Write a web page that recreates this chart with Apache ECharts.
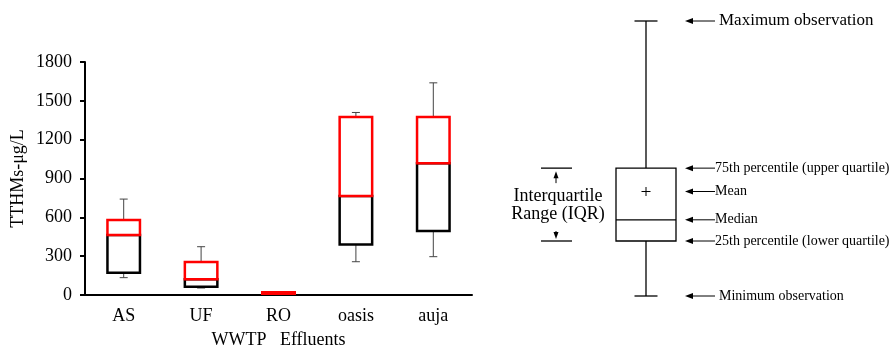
<!DOCTYPE html>
<html>
<head>
<meta charset="utf-8">
<script src="https://cdn.jsdelivr.net/npm/echarts@6/dist/echarts.min.js"></script>
<style>
  html, body { margin: 0; padding: 0; background: #fff; }
  #chart { width: 890px; height: 348px; }
</style>
</head>
<body>
<div id="chart"></div>
<script>
// box plot data (ug/L)
const categories = ['AS', 'UF', 'RO', 'oasis', 'auja'];
const minValues = [134, 54, 3, 257, 296];
const q1Values = [172, 64, 5, 391, 494];
const medianValues = [463, 121, 9, 764, 1017];
const q3Values = [579, 255, 22, 1376, 1376];
const maxValues = [741, 373, 26, 1410, 1639];
const yMin = 0, yMax = 1800, yStep = 300;

// explanatory box on the right (arbitrary 0..100 scale)
const legendBox = [0, 20, 27.7, 46.5, 100]; // min, q1, median, q3, max
const legendMean = 38;
const noteTexts = ['Maximum observation', '75th percentile (upper quartile)', 'Mean', 'Median', '25th percentile (lower quartile)', 'Minimum observation'];
const noteValues = [100, 46.5, 38, 27.7, 20, 0];
const iqrText = ['Interquartile', 'Range (IQR)'];

const FONT = '"Liberation Serif", "Times New Roman", serif';

const boxData = categories.map((c, i) => [i, minValues[i], q1Values[i], medianValues[i], q3Values[i], maxValues[i]]);

function renderBox(params, api) {
  const x = api.value(0);
  const pMin = api.coord([x, api.value(1)]);
  const pQ1 = api.coord([x, api.value(2)]);
  const pMed = api.coord([x, api.value(3)]);
  const pQ3 = api.coord([x, api.value(4)]);
  const pMax = api.coord([x, api.value(5)]);
  const cx = pMin[0];
  const halfW = api.size([1, 0])[0] * 0.21;
  const cap = 4;
  const whisker = { stroke: '#444', lineWidth: 1 };
  return {
    type: 'group',
    children: [
      { type: 'line', shape: { x1: cx, y1: pQ3[1], x2: cx, y2: pMax[1] }, style: whisker },
      { type: 'line', shape: { x1: cx - cap, y1: pMax[1], x2: cx + cap, y2: pMax[1] }, style: whisker },
      { type: 'line', shape: { x1: cx, y1: pQ1[1], x2: cx, y2: pMin[1] }, style: whisker },
      { type: 'line', shape: { x1: cx - cap, y1: pMin[1], x2: cx + cap, y2: pMin[1] }, style: whisker },
      { type: 'rect', shape: { x: cx - halfW, y: pMed[1], width: halfW * 2, height: pQ1[1] - pMed[1] },
        style: { fill: '#fff', stroke: '#000', lineWidth: 2.5 } },
      { type: 'rect', shape: { x: cx - halfW, y: pQ3[1], width: halfW * 2, height: pMed[1] - pQ3[1] },
        style: { fill: '#fff', stroke: '#ff0000', lineWidth: 2.5 } }
    ]
  };
}

function renderLegend(params, api) {
  const yOf = v => api.coord([0, v])[1];
  const cx = api.coord([0, 0])[0];
  const halfW = api.size([1, 0])[0] / 2;
  const yMinP = yOf(legendBox[0]), yQ1 = yOf(legendBox[1]), yMed = yOf(legendBox[2]);
  const yQ3 = yOf(legendBox[3]), yMaxP = yOf(legendBox[4]), yMean = yOf(legendMean);
  const ln = { stroke: '#000', lineWidth: 1.3 };
  const cap = 11.5;
  const kids = [
    { type: 'line', shape: { x1: cx, y1: yQ3, x2: cx, y2: yMaxP }, style: ln },
    { type: 'line', shape: { x1: cx - cap, y1: yMaxP, x2: cx + cap, y2: yMaxP }, style: ln },
    { type: 'line', shape: { x1: cx, y1: yQ1, x2: cx, y2: yMinP }, style: ln },
    { type: 'line', shape: { x1: cx - cap, y1: yMinP, x2: cx + cap, y2: yMinP }, style: ln },
    { type: 'rect', shape: { x: cx - halfW, y: yQ3, width: halfW * 2, height: yQ1 - yQ3 }, style: { fill: '#fff', stroke: '#000', lineWidth: 1.3 } },
    { type: 'line', shape: { x1: cx - halfW, y1: yMed, x2: cx + halfW, y2: yMed }, style: ln },
    // mean marker
    { type: 'line', shape: { x1: cx - 4.5, y1: yMean, x2: cx + 4.5, y2: yMean }, style: { stroke: '#000', lineWidth: 1 } },
    { type: 'line', shape: { x1: cx, y1: yMean - 4.5, x2: cx, y2: yMean + 4.5 }, style: { stroke: '#000', lineWidth: 1 } }
  ];
  // arrows and notes
  const ax0 = cx + halfW + 9, ax1 = cx + halfW + 39;
  noteTexts.forEach((t, i) => {
    const y = yOf(noteValues[i]);
    const isEnd = i === 0 || i === noteTexts.length - 1;
    kids.push({ type: 'line', shape: { x1: ax0 + 4, y1: y, x2: ax1, y2: y }, style: { stroke: '#000', lineWidth: 1 } });
    kids.push({ type: 'polygon', shape: { points: [[ax0, y], [ax0 + 8, y - 3], [ax0 + 8, y + 3]] }, style: { fill: '#000' } });
    kids.push({ type: 'text', x: ax1 + (isEnd ? 4 : 0), y: y,
      style: { text: t, fontFamily: FONT, fontSize: i === 0 ? 17 : 14, fill: '#000', align: 'left', verticalAlign: 'middle' } });
  });
  // IQR bracket
  const ix = cx - 90;
  kids.push({ type: 'line', shape: { x1: ix - 15, y1: yQ3, x2: ix + 16, y2: yQ3 }, style: ln });
  kids.push({ type: 'line', shape: { x1: ix - 15, y1: yQ1, x2: ix + 16, y2: yQ1 }, style: ln });
  kids.push({ type: 'line', shape: { x1: ix, y1: yQ3 + 6, x2: ix, y2: yQ3 + 15 }, style: { stroke: '#000', lineWidth: 1 } });
  kids.push({ type: 'polygon', shape: { points: [[ix, yQ3 + 3], [ix - 2.5, yQ3 + 10], [ix + 2.5, yQ3 + 10]] }, style: { fill: '#000' } });
  kids.push({ type: 'line', shape: { x1: ix, y1: yQ1 - 10, x2: ix, y2: yQ1 - 5 }, style: { stroke: '#000', lineWidth: 1 } });
  kids.push({ type: 'polygon', shape: { points: [[ix, yQ1 - 2], [ix - 2.5, yQ1 - 9], [ix + 2.5, yQ1 - 9]] }, style: { fill: '#000' } });
  const mid = (yQ1 + yQ3) / 2;
  kids.push({ type: 'text', x: ix + 2, y: mid - 8.5, style: { text: iqrText[0], fontFamily: FONT, fontSize: 18, fill: '#000', align: 'center', verticalAlign: 'middle' } });
  kids.push({ type: 'text', x: ix + 2, y: mid + 9.5, style: { text: iqrText[1], fontFamily: FONT, fontSize: 18, fill: '#000', align: 'center', verticalAlign: 'middle' } });
  return { type: 'group', children: kids };
}

const chart = echarts.init(document.getElementById('chart'), null, { renderer: 'canvas' });

chart.setOption({
  animation: false,
  backgroundColor: '#fff',
  textStyle: { fontFamily: FONT },
  grid: [
    { left: 85, right: 418, top: 62, bottom: 53, outerBoundsMode: 'none', containLabel: false },
    { left: 616, width: 60, top: 21, bottom: 52, outerBoundsMode: 'none', containLabel: false }
  ],
  xAxis: [
    {
      type: 'category',
      gridIndex: 0,
      data: categories,
      boundaryGap: true,
      name: 'WWTP   Effluents',
      nameLocation: 'middle',
      nameGap: 36,
      nameTextStyle: { fontFamily: FONT, fontSize: 18, color: '#000' },
      axisLine: { lineStyle: { color: '#000', width: 2 } },
      axisTick: { alignWithLabel: false, length: 5, lineStyle: { color: '#000', width: 2 } },
      axisLabel: { fontFamily: FONT, fontSize: 18, color: '#000', margin: 12 },
      splitLine: { show: false }
    },
    { type: 'category', gridIndex: 1, data: ['box'], show: false }
  ],
  yAxis: [
    {
      type: 'value',
      gridIndex: 0,
      min: yMin,
      max: yMax,
      interval: yStep,
      name: 'TTHMs-μg/L',
      nameLocation: 'middle',
      nameGap: 58,
      nameTextStyle: { fontFamily: FONT, fontSize: 18, color: '#000' },
      axisLine: { show: true, lineStyle: { color: '#000', width: 2 } },
      axisTick: { show: true, length: 5, lineStyle: { color: '#000', width: 2 } },
      axisLabel: { fontFamily: FONT, fontSize: 18, color: '#000', margin: 13, formatter: v => String(v) },
      splitLine: { show: false }
    },
    { type: 'value', gridIndex: 1, min: 0, max: 100, show: false }
  ],
  series: [
    {
      type: 'custom',
      xAxisIndex: 0,
      yAxisIndex: 0,
      renderItem: renderBox,
      encode: { x: 0, y: [1, 2, 3, 4, 5] },
      data: boxData,
      z: 3
    },
    {
      type: 'custom',
      xAxisIndex: 1,
      yAxisIndex: 1,
      renderItem: renderLegend,
      encode: { x: 0, y: [1, 2, 3, 4, 5] },
      data: [[0].concat(legendBox)],
      clip: false
    }
  ]
});

window.addEventListener('resize', function () {
  chart.resize();
});
</script>
</body>
</html>
